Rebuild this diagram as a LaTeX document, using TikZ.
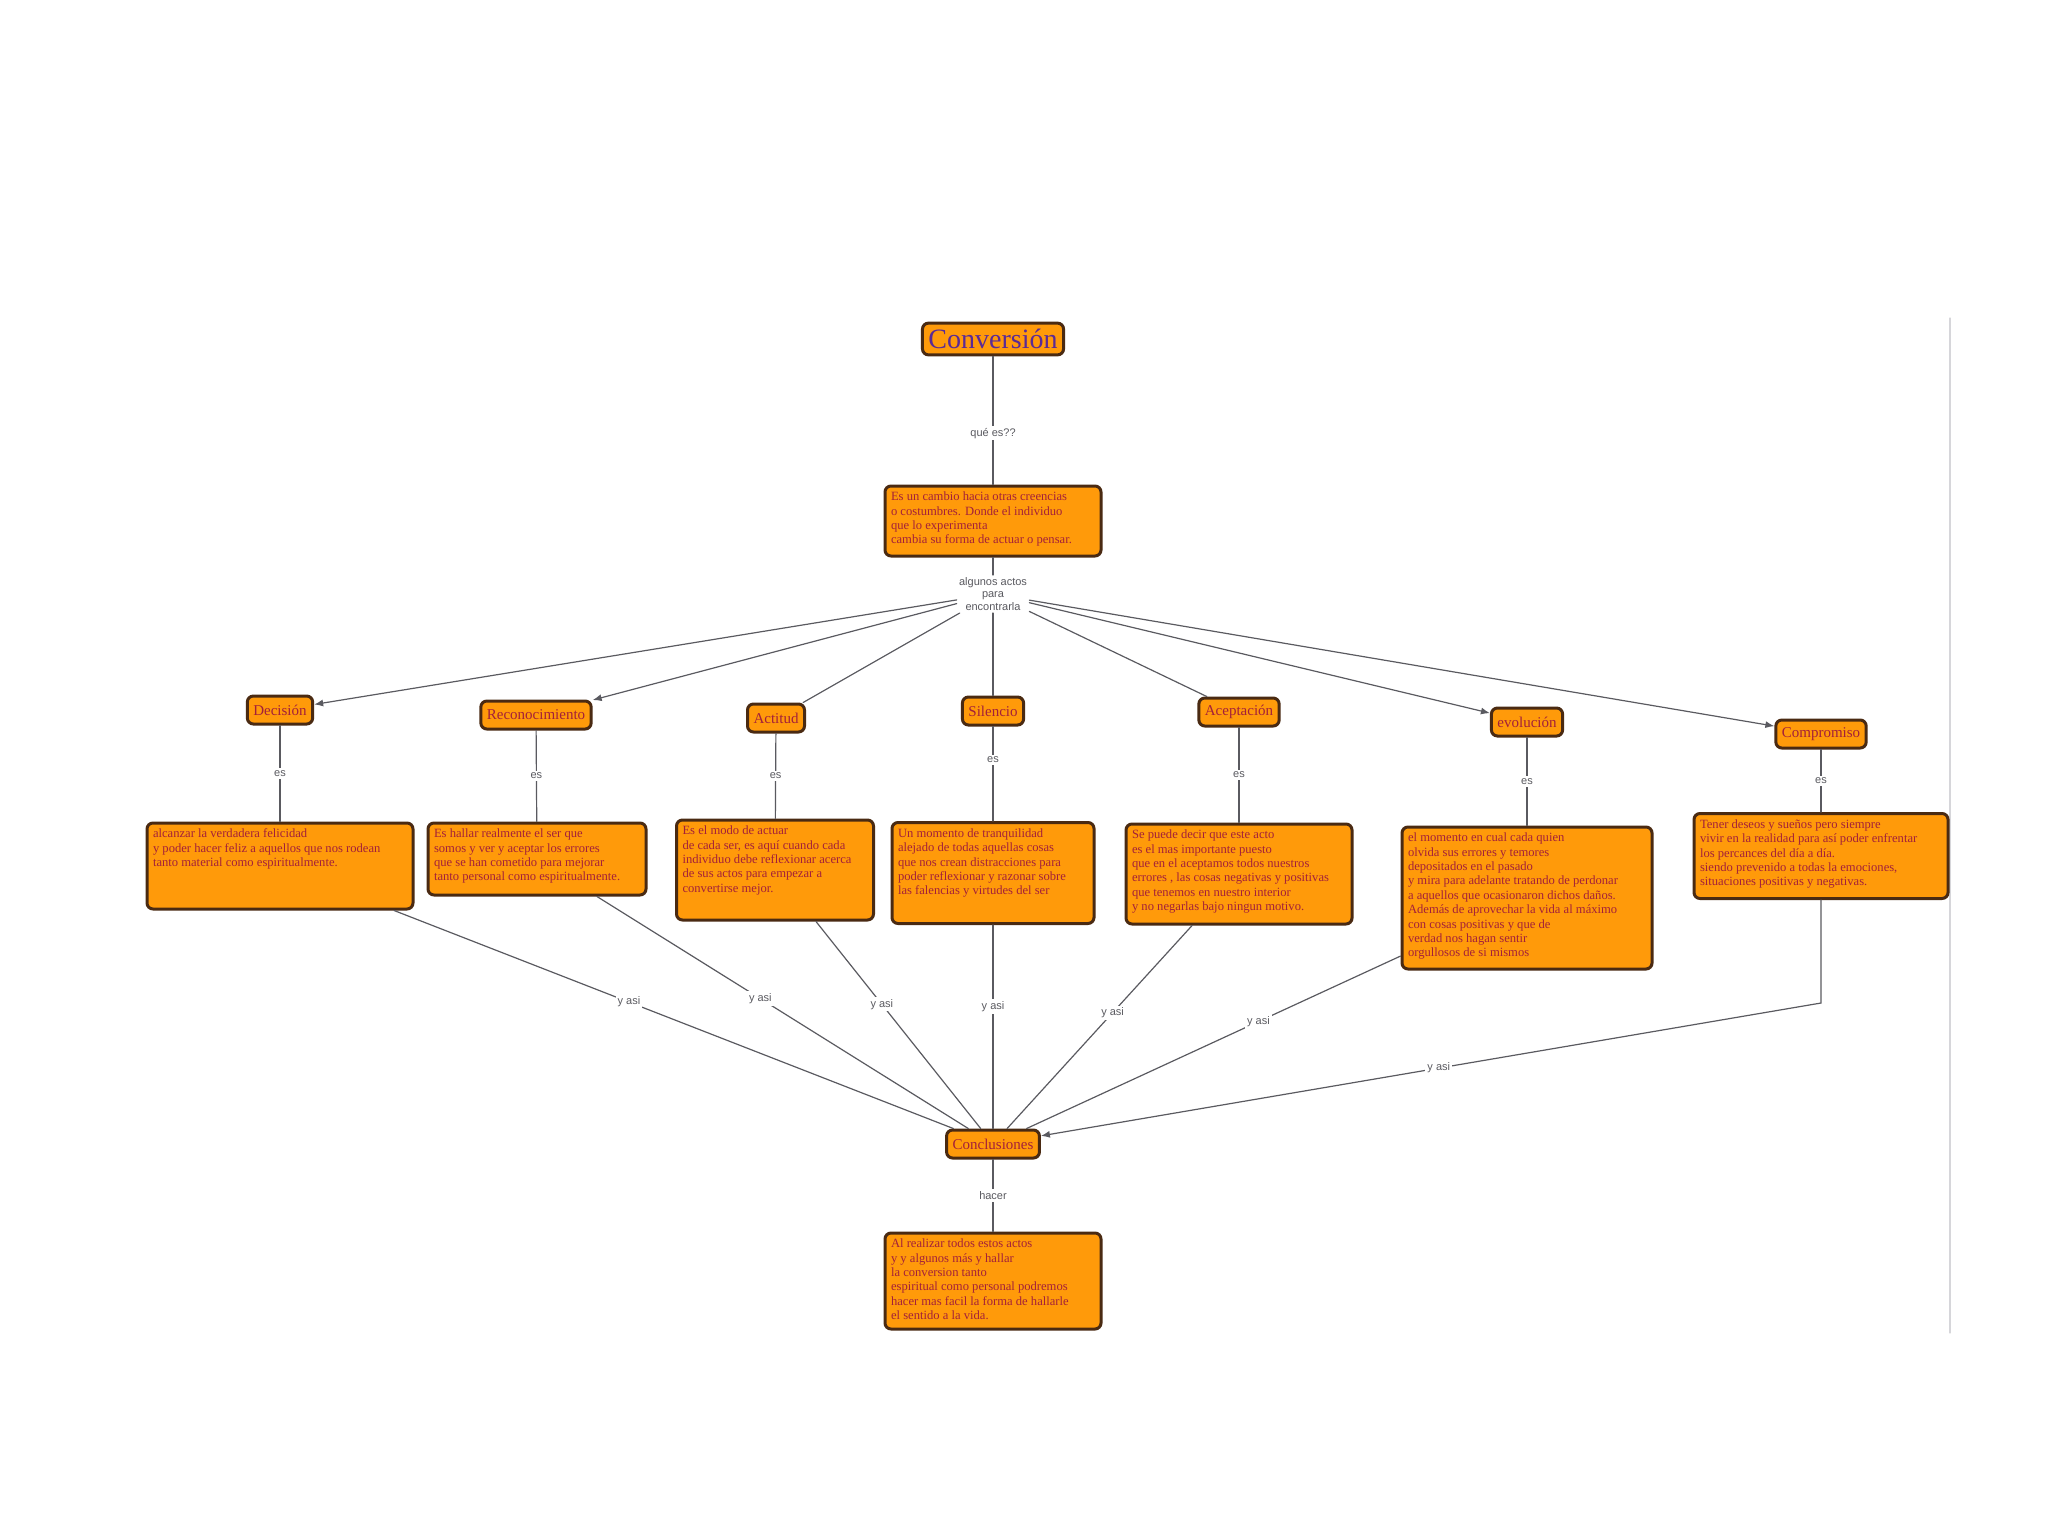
\documentclass[tikz,border=0pt]{standalone}
\usepackage{fontspec}
\setmainfont{Liberation Serif}
\newfontfamily\etiqfont{Liberation Sans}
\usetikzlibrary{arrows.meta}
\definecolor{naranja}{HTML}{FF9A0A}
\definecolor{borde}{HTML}{4A2A12}
\definecolor{rojizo}{HTML}{A3203A}
\definecolor{morado}{HTML}{5B2A96}
\definecolor{gris}{HTML}{5A5A60}
\definecolor{grisclaro}{HTML}{D6D6DA}
\newcommand{\caja}[3]{\begin{minipage}[c][#2][t]{#1}\raggedright\fontsize{6.3}{7.2}\selectfont #3\end{minipage}}
\tikzset{
  concepto/.style={draw=borde,line width=1.5pt,fill=naranja,rounded corners=3pt,
                   inner sep=3pt,text=rojizo,minimum height=14pt,
                   font=\fontsize{7.5}{8}\selectfont},
  enlace/.style={fill=white,inner sep=1pt,text=gris,align=center,
                 font=\etiqfont\fontsize{5.5}{6.3}\selectfont},
  linea/.style={draw=gris,line width=0.6pt},
}
\begin{document}
\begin{tikzpicture}[x=0.5pt,y=-0.5pt,>={Latex[length=4.5pt,width=3.5pt]},line cap=round]
    \useasboundingbox (0,0) rectangle (2048,1536);
    % --- borde de la hoja ---
    \draw[grisclaro,line width=0.6pt] (1950,318) -- (1950,1333);
    % --- concepto principal ---
    \node[concepto,text=morado,font=\fontsize{14}{16}\selectfont] (conv) at (993,339) {Conversión};
    \node[concepto] (defi) at (993,521) {\caja{102pt}{29pt}{Es un cambio hacia otras creencias\\
      o costumbres. Donde el individuo\\ que lo experimenta\\ cambia su forma de actuar o pensar.}};
    \node[enlace] (actos) at (993,594) {algunos actos\\para\\encontrarla};
    % --- actos ---
    \node[concepto] (cdec) at (280,710)  {Decisión};
    \node[concepto] (crec) at (536,715)  {Reconocimiento};
    \node[concepto] (cact) at (776,718)  {Actitud};
    \node[concepto] (csil) at (993,711)  {Silencio};
    \node[concepto] (cace) at (1239,712) {Aceptación};
    \node[concepto] (cevo) at (1527,722) {evolución};
    \node[concepto] (ccom) at (1821,734) {Compromiso};
    % --- explicaciones ---
    \node[concepto] (ddec) at (280,866) {\caja{127pt}{37pt}{alcanzar la verdadera felicidad\\
      y poder hacer feliz a aquellos que nos rodean\\ tanto material como espiritualmente.}};
    \node[concepto] (drec) at (537,859) {\caja{103pt}{30pt}{Es hallar realmente el ser que\\
      somos y ver y aceptar los errores\\ que se han cometido para mejorar\\ tanto personal como espiritualmente.}};
    \node[concepto] (dact) at (775,870) {\caja{92.5pt}{44pt}{Es el modo de actuar\\
      de cada ser, es aquí cuando cada\\ individuo debe reflexionar acerca\\ de sus actos para empezar a\\ convertirse mejor.}};
    \node[concepto] (dsil) at (993,873) {\caja{95pt}{44.5pt}{Un momento de tranquilidad\\
      alejado de todas aquellas cosas\\ que nos crean distracciones para\\ poder reflexionar y razonar sobre\\ las falencias y virtudes del ser}};
    \node[concepto] (dace) at (1239,874) {\caja{107pt}{44pt}{Se puede decir que este acto\\
      es el mas importante puesto\\ que en el aceptamos todos nuestros\\ errores , las cosas negativas y positivas\\
      que tenemos en nuestro interior\\ y no negarlas bajo ningun motivo.}};
    \node[concepto] (devo) at (1527,898) {\caja{119pt}{65pt}{el momento en cual cada quien\\
      olvida sus errores y temores\\ depositados en el pasado\\ y mira para adelante tratando de perdonar\\
      a aquellos que ocasionaron dichos daños.\\ Además de aprovechar la vida al máximo\\
      con cosas positivas y que de\\ verdad nos hagan sentir\\ orgullosos de si mismos}};
    \node[concepto] (dcom) at (1821,856) {\caja{121pt}{36.5pt}{Tener deseos y sueños pero siempre\\
      vivir en la realidad para así poder enfrentar\\ los percances del día a día.\\
      siendo prevenido a todas la emociones,\\ situaciones positivas y negativas.}};
    % --- cierre ---
    \node[concepto] (conc) at (993,1144) {Conclusiones};
    \node[concepto] (dfin) at (993,1281) {\caja{102pt}{42pt}{Al realizar todos estos actos\\
      y y algunos más y hallar\\ la conversion tanto\\ espiritual como personal podremos\\
      hacer mas facil la forma de hallarle\\ el sentido a la vida.}};
    \coordinate (codo) at (1821,1003);
    % --- enlaces ---
    \draw[linea] (conv) -- node[enlace,pos=0.6] {qué es??} (defi);
    \draw[linea] (defi) -- (actos);
    \draw[linea,->] (actos) -- (cdec);
    \draw[linea,->] (actos) -- (crec);
    \draw[linea] (actos) -- (cact);
    \draw[linea] (actos) -- (csil);
    \draw[linea] (actos) -- (cace);
    \draw[linea,->] (actos) -- (cevo);
    \draw[linea,->] (actos) -- (ccom);
    \foreach \c in {dec,rec,act,ace,evo,com}{
      \draw[linea] (c\c) -- node[enlace] {es} (d\c);
    }
    \draw[linea] (csil) -- node[enlace,pos=0.35] {es} (dsil);
    \draw[linea] (ddec) -- node[enlace,pos=0.42] {y asi} (conc);
    \draw[linea] (drec) -- node[enlace,pos=0.44] {y asi} (conc);
    \draw[linea] (dact) -- node[enlace,pos=0.40] {y asi} (conc);
    \draw[linea] (dsil) -- node[enlace,pos=0.40] {y asi} (conc);
    \draw[linea] (dace) -- node[enlace,pos=0.43] {y asi} (conc);
    \draw[linea] (devo) -- node[enlace,pos=0.38] {y asi} (conc);
    \draw[linea,->] (dcom) -- (codo) -- node[enlace,pos=0.49] {y asi} (conc);
    \draw[linea] (conc) -- node[enlace] {hacer} (dfin);
\end{tikzpicture}
\end{document}
